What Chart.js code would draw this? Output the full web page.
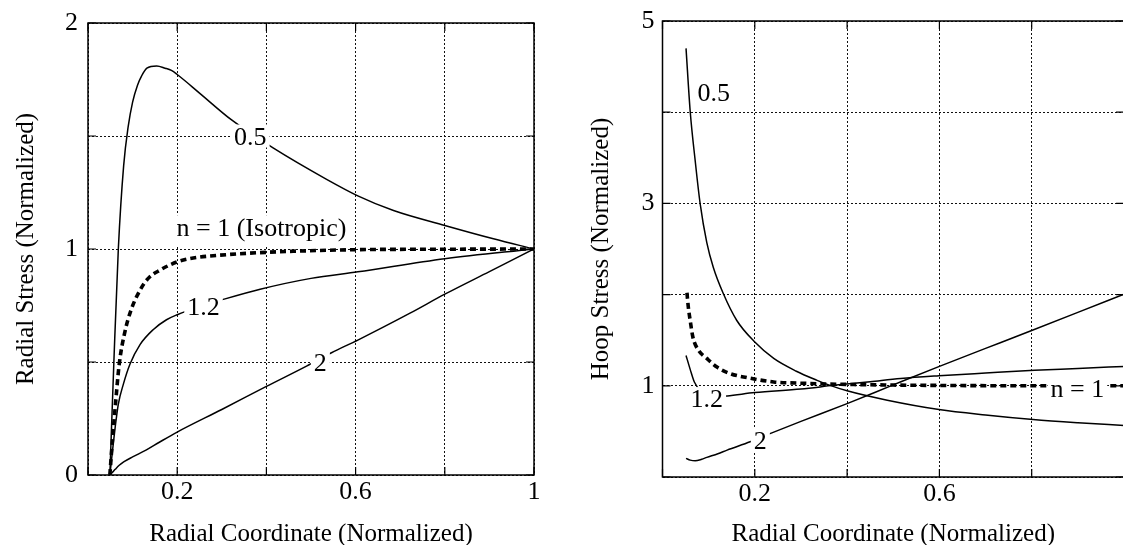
<!DOCTYPE html>
<html>
<head>
<meta charset="utf-8">
<title>Radial and Hoop Stress</title>
<script src="https://cdn.jsdelivr.net/npm/chart.js@4.4.1/dist/chart.umd.min.js"></script>
<style>
    html, body { margin: 0; padding: 0; background: #fff; overflow: hidden; width: 1123px; height: 545px; }
    #radialChart { position: absolute; left: 0; top: 0; }
    #hoopChart { position: absolute; left: 560px; top: 0; }
</style>
</head>
<body>
<canvas id="radialChart" width="560" height="545"></canvas>
<canvas id="hoopChart" width="600" height="545"></canvas>
<script>
// Radial stress curves (left plot)
const radialX_n05 = [0.049, 0.058, 0.068, 0.08, 0.09, 0.1, 0.111, 0.12, 0.132, 0.154, 0.173, 0.187, 0.2, 0.25, 0.322, 0.415, 0.535, 0.605, 0.685, 0.8, 0.909, 1];
const radialY_n05 = [0, 0.5, 1.0, 1.37, 1.54, 1.65, 1.725, 1.765, 1.80, 1.81, 1.80, 1.79, 1.772, 1.69, 1.571, 1.447, 1.308, 1.235, 1.17, 1.104, 1.045, 1.0];

const radialX_n1 = [0.049, 0.055, 0.061, 0.07, 0.083, 0.098, 0.117, 0.135, 0.161, 0.2, 0.236, 0.311, 0.386, 0.46, 0.6, 0.8, 1];
const radialY_n1 = [0, 0.16, 0.30, 0.49, 0.636, 0.738, 0.819, 0.87, 0.906, 0.943, 0.96, 0.975, 0.984, 0.99, 0.997, 0.999, 1];

const radialX_n12 = [0.049, 0.061, 0.068, 0.079, 0.094, 0.117, 0.146, 0.176, 0.2, 0.25, 0.3, 0.386, 0.5, 0.605, 0.8, 1];
const radialY_n12 = [0, 0.212, 0.314, 0.40, 0.49, 0.578, 0.643, 0.687, 0.709, 0.745, 0.775, 0.822, 0.87, 0.899, 0.957, 1];

const radialX_n2 = [0.049, 0.055, 0.061, 0.07, 0.08, 0.1, 0.13, 0.16, 0.2, 0.3, 0.4, 0.49, 0.546, 0.605, 0.722, 0.8, 0.9, 1];
const radialY_n2 = [0, 0.012, 0.025, 0.043, 0.058, 0.08, 0.11, 0.145, 0.19, 0.29, 0.392, 0.482, 0.541, 0.597, 0.716, 0.80, 0.9, 1];

// Hoop stress curves (right plot)
const hoopX_n05 = [0.051, 0.06, 0.071, 0.0815, 0.096, 0.11, 0.131, 0.161, 0.2, 0.241, 0.29, 0.335, 0.36, 0.4, 0.487, 0.599, 0.7, 0.803, 0.9, 1];
const hoopY_n05 = [4.70, 4.01, 3.46, 3.0, 2.57, 2.3, 2.02, 1.716, 1.48, 1.30, 1.16, 1.06, 1.01, 0.945, 0.842, 0.74, 0.68, 0.63, 0.595, 0.565];

const hoopX_n1 = [0.053, 0.056, 0.06, 0.066, 0.078, 0.096, 0.118, 0.147, 0.183, 0.241, 0.292, 0.35, 0.4, 0.5, 0.6, 0.8, 1];
const hoopY_n1 = [2.02, 1.86, 1.716, 1.53, 1.39, 1.30, 1.205, 1.133, 1.09, 1.042, 1.03, 1.02, 1.015, 1.008, 1.004, 1.0, 1.0];

const hoopX_n12 = [0.051, 0.06, 0.069, 0.085, 0.11, 0.14, 0.2, 0.3, 0.371, 0.45, 0.516, 0.599, 0.7, 0.806, 0.9, 1];
const hoopY_n12 = [1.333, 1.18, 1.042, 0.93, 0.88, 0.889, 0.926, 0.965, 1.005, 1.045, 1.08, 1.11, 1.14, 1.17, 1.19, 1.213];

const hoopX_n2 = [0.051, 0.06, 0.071, 0.085, 0.096, 0.12, 0.14, 0.19, 0.237, 0.3, 0.4, 0.5, 0.6, 0.7, 0.8, 0.9, 1];
const hoopY_n2 = [0.204, 0.185, 0.178, 0.195, 0.215, 0.255, 0.295, 0.386, 0.484, 0.61, 0.805, 1.01, 1.213, 1.41, 1.607, 1.805, 2.005];

// Tick labels (grid lines are drawn at every step, labels only at these)
const radialXTickValues = [0.2, 0.6, 1];
const radialXTickLabels = ['0.2', '0.6', '1'];
const radialYTickValues = [0, 1, 2];
const radialYTickLabels = ['0', '1', '2'];
const hoopXTickValues = [0.2, 0.6];
const hoopXTickLabels = ['0.2', '0.6'];
const hoopYTickValues = [1, 3, 5];
const hoopYTickLabels = ['1', '3', '5'];

// Inline curve labels
const radialLabelText = ['0.5', 'n = 1 (Isotropic)', '1.2', '2'];
const radialLabelX = [0.364, 0.389, 0.259, 0.521];
const radialLabelY = [1.50, 1.083, 0.746, 0.497];
const hoopLabelText = ['0.5', '1.2', '2', 'n = 1'];
const hoopLabelX = [0.111, 0.096, 0.212, 0.899];
const hoopLabelY = [4.22, 0.86, 0.404, 0.973];

const SERIF = '"Liberation Serif", "Times New Roman", serif';
Chart.defaults.font.family = SERIF;
Chart.defaults.color = '#000';

const toPoints = (xs, ys) => xs.map((x, i) => ({ x: x, y: ys[i] }));

function pickLabel(values, labels) {
    return (value) => {
        const i = values.findIndex(v => Math.abs(v - value) < 1e-6);
        return i >= 0 ? labels[i] : '';
    };
}

function solid(xs, ys) {
    return {
        data: toPoints(xs, ys),
        borderColor: '#000',
        borderWidth: 1.5,
        pointRadius: 0,
        cubicInterpolationMode: 'monotone',
        fill: false
    };
}

function dashed(xs, ys) {
    return {
        data: toPoints(xs, ys),
        borderColor: '#000',
        borderWidth: 3.6,
        borderDash: [6, 4],
        borderCapStyle: 'butt',
        pointRadius: 0,
        cubicInterpolationMode: 'monotone',
        fill: false
    };
}

// White-backed text labels sitting on the curves
const inlineLabels = {
    id: 'inlineLabels',
    afterDatasetsDraw(chart, args, opts) {
        const { ctx, scales: { x, y } } = chart;
        ctx.save();
        ctx.font = '26px ' + SERIF;
        ctx.textAlign = 'center';
        ctx.textBaseline = 'alphabetic';
        opts.text.forEach((t, i) => {
            const px = x.getPixelForValue(opts.xs[i]);
            const py = y.getPixelForValue(opts.ys[i]);
            const m = ctx.measureText(t);
            const asc = m.actualBoundingBoxAscent;
            const desc = m.actualBoundingBoxDescent;
            const base = py + (asc - desc) / 2;
            ctx.fillStyle = '#fff';
            ctx.fillRect(px - m.width / 2 - 3, base - asc - 3, m.width + 6, asc + desc + 6);
            ctx.fillStyle = '#000';
            ctx.fillText(t, px, base);
        });
        ctx.restore();
    }
};

// Box frame plus short inward tick marks on all four sides
const frame = {
    id: 'frame',
    afterDraw(chart) {
        const { ctx, chartArea: a, scales: { x, y } } = chart;
        ctx.save();
        ctx.strokeStyle = '#000';
        ctx.lineWidth = 1.5;
        ctx.strokeRect(a.left, a.top, a.right - a.left, a.bottom - a.top);
        ctx.lineWidth = 1.2;
        ctx.beginPath();
        x.ticks.forEach(t => {
            const px = x.getPixelForValue(t.value);
            ctx.moveTo(px, a.bottom); ctx.lineTo(px, a.bottom - 8);
            ctx.moveTo(px, a.top); ctx.lineTo(px, a.top + 8);
        });
        y.ticks.forEach(t => {
            const py = y.getPixelForValue(t.value);
            ctx.moveTo(a.left, py); ctx.lineTo(a.left + 8, py);
            ctx.moveTo(a.right, py); ctx.lineTo(a.right - 8, py);
        });
        ctx.stroke();
        ctx.restore();
    }
};

function makeOptions(cfg) {
    return {
        responsive: false,
        animation: false,
        devicePixelRatio: 1,
        layout: { padding: { top: cfg.padTop, right: cfg.padRight, left: 0, bottom: 0 } },
        plugins: {
            legend: { display: false },
            tooltip: { enabled: false },
            inlineLabels: { text: cfg.labelText, xs: cfg.labelX, ys: cfg.labelY }
        },
        scales: {
            x: {
                type: 'linear',
                min: 0,
                max: 1,
                afterFit: (s) => { s.height = cfg.xAxisHeight; },
                grid: { color: '#111', lineWidth: 1, drawTicks: false },
                border: { display: false, dash: [2, 2] },
                ticks: {
                    stepSize: 0.2,
                    autoSkip: false,
                    maxRotation: 0,
                    padding: 4,
                    font: { size: 26, lineHeight: 1 },
                    callback: pickLabel(cfg.xTickValues, cfg.xTickLabels)
                },
                title: {
                    display: true,
                    text: 'Radial Coordinate (Normalized)',
                    font: { size: 25, lineHeight: 1 },
                    padding: { top: 0, bottom: -2 }
                }
            },
            y: {
                type: 'linear',
                min: 0,
                max: cfg.yMax,
                afterFit: (s) => { s.width = cfg.yAxisWidth; },
                grid: { color: '#111', lineWidth: 1, drawTicks: false },
                border: { display: false, dash: [2, 2] },
                ticks: {
                    stepSize: cfg.yStep,
                    autoSkip: false,
                    padding: cfg.yTickPad,
                    font: { size: 26, lineHeight: 1 },
                    callback: pickLabel(cfg.yTickValues, cfg.yTickLabels)
                },
                title: {
                    display: true,
                    text: cfg.yTitle,
                    font: { size: 25, lineHeight: 1 },
                    padding: { top: cfg.yTitlePad, bottom: 0 }
                }
            }
        }
    };
}

new Chart(document.getElementById('radialChart'), {
    type: 'line',
    data: {
        datasets: [
            solid(radialX_n05, radialY_n05),
            dashed(radialX_n1, radialY_n1),
            solid(radialX_n12, radialY_n12),
            solid(radialX_n2, radialY_n2)
        ]
    },
    options: makeOptions({
        padTop: 19, padRight: 26, xAxisHeight: 70, yAxisWidth: 88,
        yMax: 2, yStep: 0.5, yTickPad: 10,
        yTitle: 'Radial Stress (Normalized)', yTitlePad: 14,
        xTickValues: radialXTickValues, xTickLabels: radialXTickLabels,
        yTickValues: radialYTickValues, yTickLabels: radialYTickLabels,
        labelText: radialLabelText, labelX: radialLabelX, labelY: radialLabelY
    }),
    plugins: [inlineLabels, frame]
});

new Chart(document.getElementById('hoopChart'), {
    type: 'line',
    data: {
        datasets: [
            solid(hoopX_n05, hoopY_n05),
            dashed(hoopX_n1, hoopY_n1),
            solid(hoopX_n12, hoopY_n12),
            solid(hoopX_n2, hoopY_n2)
        ]
    },
    options: makeOptions({
        padTop: 20, padRight: 36, xAxisHeight: 68, yAxisWidth: 102.5,
        yMax: 5, yStep: 1, yTickPad: 8,
        yTitle: 'Hoop Stress (Normalized)', yTitlePad: 28.5,
        xTickValues: hoopXTickValues, xTickLabels: hoopXTickLabels,
        yTickValues: hoopYTickValues, yTickLabels: hoopYTickLabels,
        labelText: hoopLabelText, labelX: hoopLabelX, labelY: hoopLabelY
    }),
    plugins: [inlineLabels, frame]
});
</script>
</body>
</html>
